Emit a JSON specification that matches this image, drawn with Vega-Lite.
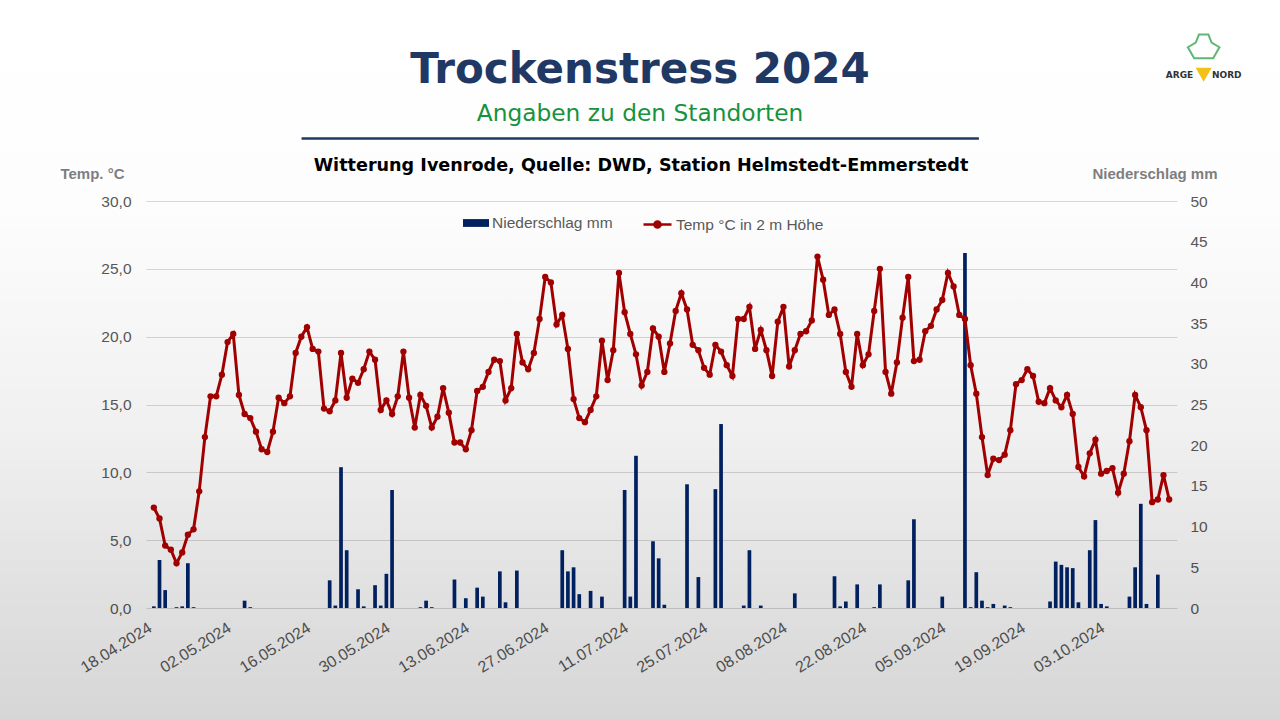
{
  "$schema": "https://vega.github.io/schema/vega-lite/v6.json",
  "width": 1031,
  "height": 407,
  "autosize": {"type": "none"},
  "padding": {"left": 146, "top": 201, "right": 103, "bottom": 112},
  "background": "#ffffff",
  "config": {
    "view": {"stroke": null},
    "font": "Liberation Sans",
    "axis": {"labelFont": "Liberation Sans", "titleFont": "Liberation Sans"},
    "legend": {"labelFont": "Liberation Sans"}
  },
  "title": {
    "text": "Trockenstress 2024",
    "subtitle": "Angaben zu den Standorten",
    "anchor": "middle",
    "frame": "group",
    "dx": -21.5,
    "offset": -126,
    "font": "DejaVu Sans",
    "fontSize": 42,
    "fontWeight": "bold",
    "color": "#1F3864",
    "subtitleFont": "DejaVu Sans",
    "subtitleFontSize": 23.3,
    "subtitleColor": "#17933D",
    "subtitlePadding": 11
  },
  "data": {
    "values": [
      {"date": "2024-04-18", "temp": 7.4, "rain": 0.2},
      {"date": "2024-04-19", "temp": 6.6, "rain": 5.9},
      {"date": "2024-04-20", "temp": 4.6, "rain": 2.2},
      {"date": "2024-04-21", "temp": 4.3, "rain": 0},
      {"date": "2024-04-22", "temp": 3.3, "rain": 0.1},
      {"date": "2024-04-23", "temp": 4.1, "rain": 0.2},
      {"date": "2024-04-24", "temp": 5.4, "rain": 5.5},
      {"date": "2024-04-25", "temp": 5.8, "rain": 0.1},
      {"date": "2024-04-26", "temp": 8.6, "rain": 0},
      {"date": "2024-04-27", "temp": 12.6, "rain": 0},
      {"date": "2024-04-28", "temp": 15.6, "rain": 0},
      {"date": "2024-04-29", "temp": 15.6, "rain": 0},
      {"date": "2024-04-30", "temp": 17.2, "rain": 0},
      {"date": "2024-05-01", "temp": 19.6, "rain": 0},
      {"date": "2024-05-02", "temp": 20.2, "rain": 0},
      {"date": "2024-05-03", "temp": 15.7, "rain": 0},
      {"date": "2024-05-04", "temp": 14.3, "rain": 0.9},
      {"date": "2024-05-05", "temp": 14.0, "rain": 0.1},
      {"date": "2024-05-06", "temp": 13.0, "rain": 0},
      {"date": "2024-05-07", "temp": 11.7, "rain": 0},
      {"date": "2024-05-08", "temp": 11.5, "rain": 0},
      {"date": "2024-05-09", "temp": 13.0, "rain": 0},
      {"date": "2024-05-10", "temp": 15.5, "rain": 0},
      {"date": "2024-05-11", "temp": 15.1, "rain": 0},
      {"date": "2024-05-12", "temp": 15.6, "rain": 0},
      {"date": "2024-05-13", "temp": 18.8, "rain": 0},
      {"date": "2024-05-14", "temp": 20.0, "rain": 0},
      {"date": "2024-05-15", "temp": 20.7, "rain": 0},
      {"date": "2024-05-16", "temp": 19.1, "rain": 0},
      {"date": "2024-05-17", "temp": 18.9, "rain": 0},
      {"date": "2024-05-18", "temp": 14.7, "rain": 0},
      {"date": "2024-05-19", "temp": 14.5, "rain": 3.4},
      {"date": "2024-05-20", "temp": 15.3, "rain": 0.3},
      {"date": "2024-05-21", "temp": 18.8, "rain": 17.3},
      {"date": "2024-05-22", "temp": 15.5, "rain": 7.1},
      {"date": "2024-05-23", "temp": 16.9, "rain": 0},
      {"date": "2024-05-24", "temp": 16.6, "rain": 2.3},
      {"date": "2024-05-25", "temp": 17.6, "rain": 0.2},
      {"date": "2024-05-26", "temp": 18.9, "rain": 0},
      {"date": "2024-05-27", "temp": 18.3, "rain": 2.8},
      {"date": "2024-05-28", "temp": 14.6, "rain": 0.3},
      {"date": "2024-05-29", "temp": 15.3, "rain": 4.2},
      {"date": "2024-05-30", "temp": 14.3, "rain": 14.5},
      {"date": "2024-05-31", "temp": 15.6, "rain": 0},
      {"date": "2024-06-01", "temp": 18.9, "rain": 0},
      {"date": "2024-06-02", "temp": 15.5, "rain": 0},
      {"date": "2024-06-03", "temp": 13.3, "rain": 0},
      {"date": "2024-06-04", "temp": 15.7, "rain": 0.1},
      {"date": "2024-06-05", "temp": 14.9, "rain": 0.9},
      {"date": "2024-06-06", "temp": 13.3, "rain": 0.1},
      {"date": "2024-06-07", "temp": 14.1, "rain": 0},
      {"date": "2024-06-08", "temp": 16.2, "rain": 0},
      {"date": "2024-06-09", "temp": 14.4, "rain": 0},
      {"date": "2024-06-10", "temp": 12.2, "rain": 3.5},
      {"date": "2024-06-11", "temp": 12.2, "rain": 0},
      {"date": "2024-06-12", "temp": 11.7, "rain": 1.2},
      {"date": "2024-06-13", "temp": 13.1, "rain": 0},
      {"date": "2024-06-14", "temp": 16.0, "rain": 2.5},
      {"date": "2024-06-15", "temp": 16.3, "rain": 1.4},
      {"date": "2024-06-16", "temp": 17.4, "rain": 0},
      {"date": "2024-06-17", "temp": 18.3, "rain": 0},
      {"date": "2024-06-18", "temp": 18.2, "rain": 4.5},
      {"date": "2024-06-19", "temp": 15.3, "rain": 0.7},
      {"date": "2024-06-20", "temp": 16.2, "rain": 0},
      {"date": "2024-06-21", "temp": 20.2, "rain": 4.6},
      {"date": "2024-06-22", "temp": 18.1, "rain": 0},
      {"date": "2024-06-23", "temp": 17.6, "rain": 0},
      {"date": "2024-06-24", "temp": 18.8, "rain": 0},
      {"date": "2024-06-25", "temp": 21.3, "rain": 0},
      {"date": "2024-06-26", "temp": 24.4, "rain": 0},
      {"date": "2024-06-27", "temp": 24.0, "rain": 0},
      {"date": "2024-06-28", "temp": 20.9, "rain": 0},
      {"date": "2024-06-29", "temp": 21.6, "rain": 7.1},
      {"date": "2024-06-30", "temp": 19.1, "rain": 4.5},
      {"date": "2024-07-01", "temp": 15.4, "rain": 5.0},
      {"date": "2024-07-02", "temp": 14.0, "rain": 1.7},
      {"date": "2024-07-03", "temp": 13.7, "rain": 0},
      {"date": "2024-07-04", "temp": 14.6, "rain": 2.1},
      {"date": "2024-07-05", "temp": 15.6, "rain": 0},
      {"date": "2024-07-06", "temp": 19.7, "rain": 1.4},
      {"date": "2024-07-07", "temp": 16.8, "rain": 0},
      {"date": "2024-07-08", "temp": 19.0, "rain": 0},
      {"date": "2024-07-09", "temp": 24.7, "rain": 0},
      {"date": "2024-07-10", "temp": 21.8, "rain": 14.5},
      {"date": "2024-07-11", "temp": 20.2, "rain": 1.4},
      {"date": "2024-07-12", "temp": 18.7, "rain": 18.7},
      {"date": "2024-07-13", "temp": 16.4, "rain": 0},
      {"date": "2024-07-14", "temp": 17.4, "rain": 0},
      {"date": "2024-07-15", "temp": 20.6, "rain": 8.2},
      {"date": "2024-07-16", "temp": 20.0, "rain": 6.1},
      {"date": "2024-07-17", "temp": 17.4, "rain": 0.4},
      {"date": "2024-07-18", "temp": 19.5, "rain": 0},
      {"date": "2024-07-19", "temp": 21.9, "rain": 0},
      {"date": "2024-07-20", "temp": 23.2, "rain": 0},
      {"date": "2024-07-21", "temp": 22.0, "rain": 15.2},
      {"date": "2024-07-22", "temp": 19.4, "rain": 0},
      {"date": "2024-07-23", "temp": 19.0, "rain": 3.8},
      {"date": "2024-07-24", "temp": 17.7, "rain": 0},
      {"date": "2024-07-25", "temp": 17.2, "rain": 0},
      {"date": "2024-07-26", "temp": 19.4, "rain": 14.6},
      {"date": "2024-07-27", "temp": 18.9, "rain": 22.6},
      {"date": "2024-07-28", "temp": 17.9, "rain": 0},
      {"date": "2024-07-29", "temp": 17.1, "rain": 0},
      {"date": "2024-07-30", "temp": 21.3, "rain": 0},
      {"date": "2024-07-31", "temp": 21.3, "rain": 0.3},
      {"date": "2024-08-01", "temp": 22.2, "rain": 7.1},
      {"date": "2024-08-02", "temp": 19.1, "rain": 0},
      {"date": "2024-08-03", "temp": 20.5, "rain": 0.3},
      {"date": "2024-08-04", "temp": 19.0, "rain": 0},
      {"date": "2024-08-05", "temp": 17.1, "rain": 0},
      {"date": "2024-08-06", "temp": 21.1, "rain": 0},
      {"date": "2024-08-07", "temp": 22.2, "rain": 0},
      {"date": "2024-08-08", "temp": 17.8, "rain": 0},
      {"date": "2024-08-09", "temp": 19.0, "rain": 1.8},
      {"date": "2024-08-10", "temp": 20.2, "rain": 0},
      {"date": "2024-08-11", "temp": 20.4, "rain": 0},
      {"date": "2024-08-12", "temp": 21.2, "rain": 0},
      {"date": "2024-08-13", "temp": 25.9, "rain": 0},
      {"date": "2024-08-14", "temp": 24.2, "rain": 0},
      {"date": "2024-08-15", "temp": 21.6, "rain": 0},
      {"date": "2024-08-16", "temp": 22.0, "rain": 3.9},
      {"date": "2024-08-17", "temp": 20.2, "rain": 0.2},
      {"date": "2024-08-18", "temp": 17.4, "rain": 0.8},
      {"date": "2024-08-19", "temp": 16.3, "rain": 0},
      {"date": "2024-08-20", "temp": 20.2, "rain": 2.9},
      {"date": "2024-08-21", "temp": 17.9, "rain": 0},
      {"date": "2024-08-22", "temp": 18.7, "rain": 0},
      {"date": "2024-08-23", "temp": 21.9, "rain": 0.1},
      {"date": "2024-08-24", "temp": 25.0, "rain": 2.9},
      {"date": "2024-08-25", "temp": 17.4, "rain": 0},
      {"date": "2024-08-26", "temp": 15.8, "rain": 0},
      {"date": "2024-08-27", "temp": 18.1, "rain": 0},
      {"date": "2024-08-28", "temp": 21.4, "rain": 0},
      {"date": "2024-08-29", "temp": 24.4, "rain": 3.4},
      {"date": "2024-08-30", "temp": 18.2, "rain": 10.9},
      {"date": "2024-08-31", "temp": 18.3, "rain": 0},
      {"date": "2024-09-01", "temp": 20.4, "rain": 0},
      {"date": "2024-09-02", "temp": 20.8, "rain": 0},
      {"date": "2024-09-03", "temp": 22.0, "rain": 0},
      {"date": "2024-09-04", "temp": 22.7, "rain": 1.4},
      {"date": "2024-09-05", "temp": 24.7, "rain": 0},
      {"date": "2024-09-06", "temp": 23.7, "rain": 0},
      {"date": "2024-09-07", "temp": 21.6, "rain": 0},
      {"date": "2024-09-08", "temp": 21.3, "rain": 43.6},
      {"date": "2024-09-09", "temp": 17.9, "rain": 0.1},
      {"date": "2024-09-10", "temp": 15.8, "rain": 4.4},
      {"date": "2024-09-11", "temp": 12.6, "rain": 0.9},
      {"date": "2024-09-12", "temp": 9.8, "rain": 0.1},
      {"date": "2024-09-13", "temp": 11.0, "rain": 0.5},
      {"date": "2024-09-14", "temp": 10.9, "rain": 0},
      {"date": "2024-09-15", "temp": 11.3, "rain": 0.3},
      {"date": "2024-09-16", "temp": 13.1, "rain": 0.1},
      {"date": "2024-09-17", "temp": 16.5, "rain": 0},
      {"date": "2024-09-18", "temp": 16.8, "rain": 0},
      {"date": "2024-09-19", "temp": 17.6, "rain": 0},
      {"date": "2024-09-20", "temp": 17.1, "rain": 0},
      {"date": "2024-09-21", "temp": 15.2, "rain": 0},
      {"date": "2024-09-22", "temp": 15.1, "rain": 0},
      {"date": "2024-09-23", "temp": 16.2, "rain": 0.8},
      {"date": "2024-09-24", "temp": 15.3, "rain": 5.7},
      {"date": "2024-09-25", "temp": 14.8, "rain": 5.3},
      {"date": "2024-09-26", "temp": 15.7, "rain": 5.0},
      {"date": "2024-09-27", "temp": 14.3, "rain": 4.9},
      {"date": "2024-09-28", "temp": 10.4, "rain": 0.7},
      {"date": "2024-09-29", "temp": 9.7, "rain": 0},
      {"date": "2024-09-30", "temp": 11.4, "rain": 7.1},
      {"date": "2024-10-01", "temp": 12.4, "rain": 10.8},
      {"date": "2024-10-02", "temp": 9.9, "rain": 0.5},
      {"date": "2024-10-03", "temp": 10.1, "rain": 0.2},
      {"date": "2024-10-04", "temp": 10.3, "rain": 0},
      {"date": "2024-10-05", "temp": 8.5, "rain": 0},
      {"date": "2024-10-06", "temp": 9.9, "rain": 0},
      {"date": "2024-10-07", "temp": 12.3, "rain": 1.4},
      {"date": "2024-10-08", "temp": 15.7, "rain": 5.0},
      {"date": "2024-10-09", "temp": 14.8, "rain": 12.8},
      {"date": "2024-10-10", "temp": 13.1, "rain": 0.5},
      {"date": "2024-10-11", "temp": 7.8, "rain": 0},
      {"date": "2024-10-12", "temp": 8.0, "rain": 4.1},
      {"date": "2024-10-13", "temp": 9.8, "rain": 0},
      {"date": "2024-10-14", "temp": 8.0, "rain": 0}
    ]
  },
  "layer": [
    {
      "data": {"values": [{}]},
      "mark": {
        "type": "rect",
        "fill": {
          "gradient": "linear",
          "x1": 0, "y1": 0, "x2": 0, "y2": 1,
          "stops": [
            {"offset": 0, "color": "rgba(0,0,0,0)"},
            {"offset": 0.28, "color": "rgba(0,0,0,0.008)"},
            {"offset": 0.6, "color": "rgba(0,0,0,0.06)"},
            {"offset": 0.83, "color": "rgba(0,0,0,0.12)"},
            {"offset": 1, "color": "rgba(0,0,0,0.16)"}
          ]
        }
      },
      "encoding": {
        "x": {
          "datum": {"year": 2024, "month": 2, "date": 1, "utc": true},
          "type": "temporal",
          "scale": {"type": "utc", "domain": [{"year": 2024, "month": 4, "date": 17, "hours": 12, "utc": true}, {"year": 2024, "month": 10, "date": 14, "hours": 12, "utc": true}]},
          "axis": null
        },
        "x2": {"datum": {"year": 2024, "month": 12, "date": 1, "utc": true}},
        "y": {"datum": 44.82, "type": "quantitative", "scale": {"domain": [0, 30]}, "axis": null},
        "y2": {"datum": -8.26}
      }
    },
    {
      "mark": {"type": "bar", "size": 3.7, "color": "#002060"},
      "encoding": {
        "x": {
          "field": "date",
          "type": "temporal",
          "scale": {"type": "utc", "domain": [{"year": 2024, "month": 4, "date": 17, "hours": 12, "utc": true}, {"year": 2024, "month": 10, "date": 14, "hours": 12, "utc": true}]},
          "axis": {
            "orient": "bottom",
            "values": [
              {"year": 2024, "month": 4, "date": 18, "utc": true},
              {"year": 2024, "month": 5, "date": 2, "utc": true},
              {"year": 2024, "month": 5, "date": 16, "utc": true},
              {"year": 2024, "month": 5, "date": 30, "utc": true},
              {"year": 2024, "month": 6, "date": 13, "utc": true},
              {"year": 2024, "month": 6, "date": 27, "utc": true},
              {"year": 2024, "month": 7, "date": 11, "utc": true},
              {"year": 2024, "month": 7, "date": 25, "utc": true},
              {"year": 2024, "month": 8, "date": 8, "utc": true},
              {"year": 2024, "month": 8, "date": 22, "utc": true},
              {"year": 2024, "month": 9, "date": 5, "utc": true},
              {"year": 2024, "month": 9, "date": 19, "utc": true},
              {"year": 2024, "month": 10, "date": 3, "utc": true}
            ],
            "labelExpr": "utcFormat(datum.value, '%d.%m.%Y')",
            "labelAngle": -32,
            "labelAlign": "right",
            "labelBaseline": "middle",
            "labelPadding": 18,
            "labelOffset": -4,
            "labelFontSize": 16,
            "labelColor": "#595959",
            "ticks": false,
            "domain": false,
            "grid": false,
            "title": null
          }
        },
        "y": {
          "field": "rain",
          "type": "quantitative",
          "scale": {"domain": [0, 50]},
          "axis": {
            "orient": "right",
            "values": [0, 5, 10, 15, 20, 25, 30, 35, 40, 45, 50],
            "grid": false,
            "domain": false,
            "ticks": false,
            "labelPadding": 13,
            "labelFontSize": 15.5,
            "labelColor": "#595959",
            "title": "Niederschlag mm",
            "titleAngle": 0,
            "titleAlign": "right",
            "titleBaseline": "alphabetic",
            "titleX": 40,
            "titleY": -23,
            "titleFontSize": 15,
            "titleFontWeight": "bold",
            "titleColor": "#7F7F7F"
          }
        },
        "color": {
          "datum": "Niederschlag mm",
          "scale": {"range": ["#002060"]},
          "legend": {
            "orient": "none",
            "legendX": 317,
            "legendY": 9,
            "title": null,
            "padding": 0,
            "symbolType": "M-1,-0.3H1V0.3H-1Z",
            "symbolSize": 676,
            "symbolStrokeWidth": 0,
            "labelFontSize": 15.5,
            "labelColor": "#595959",
            "labelOffset": 3
          }
        }
      }
    },
    {
      "mark": {"type": "line", "color": "#A00000", "strokeWidth": 3, "point": {"filled": true, "size": 40, "color": "#A00000"}},
      "encoding": {
        "x": {
          "field": "date",
          "type": "temporal",
          "scale": {"type": "utc", "domain": [{"year": 2024, "month": 4, "date": 17, "hours": 12, "utc": true}, {"year": 2024, "month": 10, "date": 14, "hours": 12, "utc": true}]},
          "axis": null
        },
        "y": {
          "field": "temp",
          "type": "quantitative",
          "scale": {"domain": [0, 30]},
          "axis": {
            "orient": "left",
            "values": [0, 5, 10, 15, 20, 25, 30],
            "labelExpr": "replace(format(datum.value, '.1f'), '.', ',')",
            "grid": true,
            "gridColor": "#d9d9d9",
            "gridWidth": 1,
            "domain": false,
            "ticks": false,
            "labelPadding": 15,
            "labelFontSize": 15.5,
            "labelColor": "#595959",
            "title": "Temp. °C",
            "titleAngle": 0,
            "titleAlign": "right",
            "titleBaseline": "alphabetic",
            "titleX": -22,
            "titleY": -23,
            "titleFontSize": 15,
            "titleFontWeight": "bold",
            "titleColor": "#7F7F7F"
          }
        },
        "color": {
          "datum": "Temp °C in 2 m Höhe",
          "scale": {"range": ["#A00000"]},
          "legend": {
            "orient": "none",
            "legendX": 496,
            "legendY": 8,
            "title": null,
            "padding": 0,
            "symbolType": "M-1,0H1M-0.22,0A0.22,0.22 0 1 1 0.22,0A0.22,0.22 0 1 1 -0.22,0Z",
            "symbolSize": 784,
            "symbolStrokeWidth": 2.5,
            "symbolFillColor": "#A00000",
            "labelFontSize": 15.5,
            "labelColor": "#595959",
            "labelOffset": 3,
            "encode": {"symbols": {"update": {"fill": {"value": "#A00000"}, "stroke": {"value": "#A00000"}}}}
          }
        }
      }
    },
    {
      "data": {"values": [{}]},
      "mark": {"type": "rule", "color": "#1F3864", "strokeWidth": 2.5},
      "encoding": {
        "x": {
          "datum": {"year": 2024, "month": 5, "date": 14, "hours": 1, "utc": true},
          "type": "temporal",
          "scale": {"type": "utc", "domain": [{"year": 2024, "month": 4, "date": 17, "hours": 12, "utc": true}, {"year": 2024, "month": 10, "date": 14, "hours": 12, "utc": true}]},
          "axis": {
            "orient": "top",
            "labels": false,
            "ticks": false,
            "domain": false,
            "grid": false,
            "title": "Witterung Ivenrode, Quelle: DWD, Station Helmstedt-Emmerstedt",
            "titleFont": "DejaVu Sans",
            "titleFontSize": 17.6,
            "titleFontWeight": "bold",
            "titleColor": "#000000",
            "titleX": 494.5,
            "titleY": -31,
            "titleAlign": "center",
            "titleBaseline": "alphabetic"
          }
        },
        "x2": {"datum": {"year": 2024, "month": 9, "date": 10, "hours": 11, "utc": true}},
        "y": {"datum": 34.6, "type": "quantitative", "scale": {"domain": [0, 30]}, "axis": null}
      }
    },
    {
      "data": {"values": [{}]},
      "mark": {"type": "point", "shape": "M-0.6,0.5L-1,-0.2L-0.5,-0.5L-0.3,-1L0.3,-1L0.5,-0.5L1,-0.2L0.6,0.5Z", "size": 1000, "filled": false, "stroke": "#1E9A3A", "strokeWidth": 2},
      "encoding": {
        "x": {
          "datum": {"year": 2024, "month": 10, "date": 20, "hours": 2, "utc": true},
          "type": "temporal",
          "scale": {"type": "utc", "domain": [{"year": 2024, "month": 4, "date": 17, "hours": 12, "utc": true}, {"year": 2024, "month": 10, "date": 14, "hours": 12, "utc": true}]},
          "axis": null
        },
        "y": {"datum": 41.1, "type": "quantitative", "scale": {"domain": [0, 30]}, "axis": null}
      }
    },
    {
      "data": {"values": [{}]},
      "mark": {"type": "point", "shape": "triangle-down", "size": 260, "filled": true, "color": "#F2C218", "opacity": 1},
      "encoding": {
        "x": {
          "datum": {"year": 2024, "month": 10, "date": 20, "hours": 2, "utc": true},
          "type": "temporal",
          "scale": {"type": "utc", "domain": [{"year": 2024, "month": 4, "date": 17, "hours": 12, "utc": true}, {"year": 2024, "month": 10, "date": 14, "hours": 12, "utc": true}]},
          "axis": null
        },
        "y": {"datum": 39.3, "type": "quantitative", "scale": {"domain": [0, 30]}, "axis": null}
      }
    },
    {
      "data": {"values": [{}]},
      "mark": {"type": "text", "text": "ARGE\u00a0\u00a0\u00a0\u00a0\u00a0\u00a0NORD", "font": "DejaVu Sans", "fontSize": 9, "fontWeight": "bold", "color": "#333333", "align": "center", "baseline": "alphabetic"},
      "encoding": {
        "x": {
          "datum": {"year": 2024, "month": 10, "date": 20, "hours": 2, "utc": true},
          "type": "temporal",
          "scale": {"type": "utc", "domain": [{"year": 2024, "month": 4, "date": 17, "hours": 12, "utc": true}, {"year": 2024, "month": 10, "date": 14, "hours": 12, "utc": true}]},
          "axis": null
        },
        "y": {"datum": 39.07, "type": "quantitative", "scale": {"domain": [0, 30]}, "axis": null}
      }
    }
  ],
  "resolve": {
    "scale": {"y": "independent", "color": "independent"},
    "axis": {"x": "independent", "y": "independent"},
    "legend": {"color": "independent"}
  }
}
